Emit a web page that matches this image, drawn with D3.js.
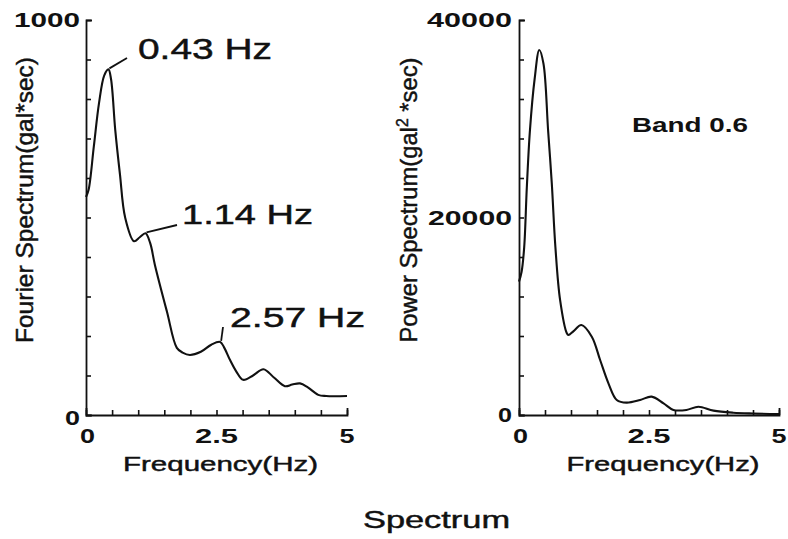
<!DOCTYPE html>
<html>
<head>
<meta charset="utf-8">
<script src="https://cdn.jsdelivr.net/npm/d3@7"></script>
<style>
  html, body { margin: 0; padding: 0; background: #fff; }
  svg { display: block; }
  text { font-family: "Liberation Sans", Arial, Helvetica, sans-serif; fill: #111; stroke: #111; stroke-width: 0.45px; }
  text.num { font-weight: bold; stroke-width: 0; }
</style>
</head>
<body>
<svg id="chart" width="788" height="539"></svg>
<script>
// Fourier amplitude spectrum (gal*sec) against frequency (Hz)
const fourierFreq = [0, 0.05, 0.15, 0.25, 0.35, 0.43, 0.48, 0.56, 0.65, 0.75, 0.92, 1.03, 1.14, 1.23, 1.32, 1.55, 1.74, 1.85, 1.99, 2.2, 2.4, 2.57, 2.65, 2.76, 2.88, 3.01, 3.2, 3.4, 3.6, 3.81, 3.95, 4.1, 4.25, 4.45, 4.6, 5];
const fourierAmp  = [552, 570, 680, 790, 860, 875, 850, 722, 610, 500, 440, 450, 460, 435, 380, 262, 170, 158, 152, 160, 178, 185, 170, 139, 110, 89, 100, 116, 95, 73, 77, 80, 70, 51, 48, 48];

// Smoothed power spectrum (gal^2*sec), band width 0.6
const powerFreq = [0, 0.05, 0.1, 0.15, 0.21, 0.3, 0.39, 0.47, 0.56, 0.63, 0.7, 0.79, 0.92, 0.95, 1.05, 1.2, 1.4, 1.56, 1.72, 1.88, 2.07, 2.33, 2.55, 2.78, 2.97, 3.22, 3.45, 3.74, 4.12, 4.5, 5];
const powerVal  = [13500, 14500, 17000, 23000, 28800, 34000, 36960, 35600, 28800, 23500, 17000, 11650, 8270, 8100, 8500, 9110, 7930, 5570, 3210, 1520, 1250, 1520, 1860, 1180, 510, 510, 840, 440, 230, 150, 100];

// Axis tick labels
const freqTickLabels    = ["0", "2.5", "5"];
const freqTickValues    = [0, 2.5, 5];
const fourierTickLabels = ["0", "1000"];
const fourierTickValues = [0, 1000];
const powerTickLabels   = ["0", "20000", "40000"];
const powerTickValues   = [0, 20000, 40000];

// Peak annotations on the Fourier spectrum
const peakFreqs  = [0.43, 1.14, 2.57];
const peakLabels = ["0.43 Hz", "1.14 Hz", "2.57 Hz"];

const svg = d3.select("#chart");

// Text helper: width-fitted text (the typeface is an extended grotesque)
function addText(parent, str, x, y, size, anchor, width, cls) {
  const t = parent.append("text")
    .attr("x", x).attr("y", y)
    .attr("font-size", size)
    .attr("text-anchor", anchor)
    .text(str);
  if (cls) t.attr("class", cls);
  if (width) t.attr("textLength", width).attr("lengthAdjust", "spacingAndGlyphs");
  return t;
}

function drawAxes(x, y, minorY) {
  const gx = svg.append("g")
    .attr("transform", `translate(0,${y.range()[0]})`)
    .call(d3.axisBottom(x).tickValues(d3.range(0, 5.001, 0.5)).tickSizeInner(-5).tickSizeOuter(-7).tickFormat(""));
  const gy = svg.append("g")
    .attr("transform", `translate(${x.range()[0]},0)`)
    .call(d3.axisLeft(y).tickValues(minorY).tickSizeInner(-5).tickSizeOuter(-6).tickFormat(""));
  [gx, gy].forEach(g => {
    g.select(".domain").attr("stroke", "#111").attr("stroke-width", 1.8);
    g.selectAll(".tick line").attr("stroke", "#111").attr("stroke-width", 1.6);
  });
}

const smooth = d3.curveCatmullRom.alpha(0.5);

// ---------- Left panel: Fourier spectrum ----------
const xL = d3.scaleLinear().domain([0, 5]).range([86, 347]);
const yL = d3.scaleLinear().domain([0, 1000]).range([415, 20]);
drawAxes(xL, yL, d3.range(0, 1001, 100));

const lineL = d3.line().x((d, i) => xL(fourierFreq[i])).y(d => yL(d)).curve(smooth);
svg.append("path").datum(fourierAmp)
  .attr("d", lineL).attr("fill", "none").attr("stroke", "#111").attr("stroke-width", 2.1);

const fourierLabelW = [15, 66];
fourierTickValues.forEach((v, i) => {
  addText(svg, fourierTickLabels[i], xL(0) - 6, yL(v) + (v === 0 ? 10 : 7), 19.5, "end", fourierLabelW[i], "num");
});
const freqLabelW = [15, 43, 15];
freqTickValues.forEach((v, i) => {
  addText(svg, freqTickLabels[i], xL(v) + (v === 0 ? 1.5 : 0), 443, 20, "middle", freqLabelW[i], "num");
});
addText(svg, "Frequency(Hz)", (xL(0) + xL(5)) / 2 + 4, 471, 21, "middle", 195);
addText(svg, "Fourier Spectrum(gal*sec)", 0, 0, 24, "middle", 286)
  .attr("transform", "translate(33,200) rotate(-90)");

// Peak labels with leader lines rising from each peak to its label
const peakLabelPos = [[138, 59, 134, 29], [182, 224, 131, 28], [230, 327, 135, 27]];
const leaderEnd = [[127, 58], [177, 225], [223, 327]];
peakFreqs.forEach((f, i) => {
  const idx = fourierFreq.indexOf(f);
  const px = xL(f), py = yL(fourierAmp[idx]);
  svg.append("line")
    .attr("x1", px + 1).attr("y1", py - 1)
    .attr("x2", leaderEnd[i][0]).attr("y2", leaderEnd[i][1])
    .attr("stroke", "#111").attr("stroke-width", 1.8);
  const p = peakLabelPos[i];
  addText(svg, peakLabels[i], p[0], p[1], p[3], "start", p[2]);
});

// ---------- Right panel: power spectrum ----------
const xR = d3.scaleLinear().domain([0, 5]).range([519, 779]);
const yR = d3.scaleLinear().domain([0, 40000]).range([415, 20]);
drawAxes(xR, yR, d3.range(0, 40001, 4000));

const lineR = d3.line().x((d, i) => xR(powerFreq[i])).y(d => yR(d)).curve(smooth);
svg.append("path").datum(powerVal)
  .attr("d", lineR).attr("fill", "none").attr("stroke", "#111").attr("stroke-width", 2.1);

const powerLabelW = [14, 84, 85];
powerTickValues.forEach((v, i) => {
  addText(svg, powerTickLabels[i], xR(0) - 7, yR(v) + 7, 19.5, "end", powerLabelW[i], "num");
});
freqTickValues.forEach((v, i) => {
  addText(svg, freqTickLabels[i], xR(v) + (v === 0 ? 1.5 : 0), 443, 20, "middle", freqLabelW[i], "num");
});
addText(svg, "Frequency(Hz)", (xR(0) + xR(5)) / 2 + 14, 471, 21, "middle", 193);

const pLabel = svg.append("text")
  .attr("transform", "translate(417,200) rotate(-90)")
  .attr("text-anchor", "middle")
  .attr("font-size", 24)
  .attr("textLength", 285).attr("lengthAdjust", "spacingAndGlyphs");
pLabel.append("tspan").text("Power Spectrum(gal");
pLabel.append("tspan").attr("font-size", 16).attr("dy", -9).text("2");
pLabel.append("tspan").attr("dy", 9).text(" *sec)");

addText(svg, "Band 0.6", 632, 132, 21, "start", 116, "num");

// ---------- Figure title ----------
addText(svg, "Spectrum", 363, 528, 24, "start", 147);
</script>
</body>
</html>
